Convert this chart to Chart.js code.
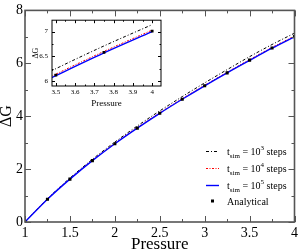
<!DOCTYPE html>
<html>
<head>
<meta charset="utf-8">
<script src="https://cdn.jsdelivr.net/npm/chart.js@4"></script>
<style>
  html, body { margin: 0; padding: 0; background: #fff; }
  #wrap { position: relative; width: 301px; height: 251px; }
  #main { position: absolute; left: 0; top: 0; }
  #inset { position: absolute; left: 28px; top: 12px; }
</style>
</head>
<body>
<div id="wrap">
  <canvas id="main" width="301" height="251"></canvas>
  <canvas id="inset" width="137" height="96"></canvas>
</div>
<script>
const pressure = [1, 1.25, 1.5, 1.75, 2, 2.25, 2.5, 2.75, 3, 3.25, 3.5, 3.75, 4];
const analytical = [0, 0.86, 1.62, 2.32, 2.96, 3.55, 4.11, 4.64, 5.15, 5.64, 6.12, 6.58, 7.01];
const tsim1e3 = [0, 0.88, 1.66, 2.37, 3.02, 3.63, 4.2, 4.74, 5.26, 5.76, 6.25, 6.71, 7.14];
const tsim1e4 = [0, 0.87, 1.63, 2.33, 2.97, 3.57, 4.13, 4.66, 5.17, 5.66, 6.14, 6.6, 7.03];
const tsim1e5 = [0, 0.86, 1.62, 2.32, 2.96, 3.55, 4.11, 4.64, 5.15, 5.64, 6.11, 6.57, 7.0];

const mainXLabels = [1, 1.5, 2, 2.5, 3, 3.5, 4];
const mainYLabels = [0, 2, 4, 6, 8];
const insetXLabels = [3.5, 3.6, 3.7, 3.8, 3.9, 4];
const insetYLabels = [6, 6.5, 7];

const legendItems = [
  { exp: "3", color: "#000000", dash: [3, 2, 1, 2] },
  { exp: "4", color: "#ff0000", dash: [2, 1.5, 1, 1.5] },
  { exp: "5", color: "#0000ff", dash: [] },
];

const FONT = "'Liberation Serif', 'DejaVu Serif', serif";

function pts(ys) {
  return pressure.map((x, i) => ({ x: x, y: ys[i] }));
}

function labelFrom(list) {
  return function (val) {
    const hit = list.find((v) => Math.abs(v - val) < 1e-6);
    return hit === undefined ? "" : String(hit);
  };
}

function datasets(pointRadius) {
  return [
    {
      label: "Analytical",
      data: pts(analytical),
      showLine: false,
      pointStyle: "rect",
      pointRadius: pointRadius,
      pointBackgroundColor: "#000",
      pointBorderWidth: 0,
      order: 0,
    },
    {
      label: "tsim 1e5",
      data: pts(tsim1e5),
      borderColor: "#0000ff",
      borderWidth: 1.4,
      pointRadius: 0,
      cubicInterpolationMode: "monotone",
      order: 1,
    },
    {
      label: "tsim 1e4",
      data: pts(tsim1e4),
      borderColor: "#ff0000",
      borderWidth: 1,
      borderDash: [2, 1.5, 1, 1.5],
      pointRadius: 0,
      cubicInterpolationMode: "monotone",
      order: 2,
    },
    {
      label: "tsim 1e3",
      data: pts(tsim1e3),
      borderColor: "#000000",
      borderWidth: 1,
      borderDash: [3, 2, 1, 2],
      pointRadius: 0,
      cubicInterpolationMode: "monotone",
      order: 3,
    },
  ];
}

// xmgrace-like frame with inward ticks on all four sides
function frameTicks(opts) {
  return {
    id: "frameTicks",
    afterDatasetsDraw(chart) {
      const { ctx, chartArea: a, scales } = chart;
      const x = scales.x, y = scales.y;
      ctx.save();
      ctx.strokeStyle = opts.color;
      ctx.lineWidth = opts.tickWidth;
      ctx.beginPath();
      x.ticks.forEach((t) => {
        const px = Math.round(x.getPixelForValue(t.value)) + 0.5;
        const len = t.label ? opts.major : opts.minor;
        ctx.moveTo(px, a.bottom); ctx.lineTo(px, a.bottom - len);
        ctx.moveTo(px, a.top); ctx.lineTo(px, a.top + len);
      });
      y.ticks.forEach((t) => {
        const py = Math.round(y.getPixelForValue(t.value)) + 0.5;
        const len = t.label ? opts.major : opts.minor;
        ctx.moveTo(a.left, py); ctx.lineTo(a.left + len, py);
        ctx.moveTo(a.right, py); ctx.lineTo(a.right - len, py);
      });
      ctx.stroke();
      ctx.lineWidth = opts.frameWidth;
      ctx.strokeRect(a.left, a.top, a.right - a.left, a.bottom - a.top);
      ctx.restore();
    },
  };
}

const legendPlugin = {
  id: "simLegend",
  afterDraw(chart) {
    const ctx = chart.ctx;
    const rows = [151, 168, 185];
    ctx.save();
    ctx.fillStyle = "#000";
    ctx.textBaseline = "alphabetic";
    legendItems.forEach((it, i) => {
      const yy = rows[i];
      ctx.strokeStyle = it.color;
      ctx.lineWidth = it.dash.length ? 1 : 1.4;
      ctx.setLineDash(it.dash);
      ctx.beginPath();
      ctx.moveTo(206, yy + 0.5);
      ctx.lineTo(219, yy + 0.5);
      ctx.stroke();
      ctx.setLineDash([]);
      let cx = 227;
      const base = yy + 3.5;
      ctx.font = "10px " + FONT;
      ctx.fillText("t", cx, base);
      cx += ctx.measureText("t").width;
      ctx.font = "7px " + FONT;
      ctx.fillText("sim", cx, base + 3);
      cx += ctx.measureText("sim").width;
      ctx.font = "10px " + FONT;
      ctx.fillText(" = 10", cx, base);
      cx += ctx.measureText(" = 10").width;
      ctx.font = "7px " + FONT;
      ctx.fillText(it.exp, cx, base - 5);
      cx += ctx.measureText(it.exp).width;
      ctx.font = "10px " + FONT;
      ctx.fillText(" steps", cx, base);
    });
    ctx.fillRect(211, 199.5, 3, 3);
    ctx.font = "10px " + FONT;
    ctx.fillText("Analytical", 227, 204.5);
    ctx.restore();
  },
};

new Chart(document.getElementById("main"), {
  type: "line",
  data: { datasets: datasets(2.2) },
  options: {
    responsive: false,
    animation: false,
    devicePixelRatio: 1,
    layout: { padding: { top: 5, right: 3, left: 0, bottom: 0 } },
    plugins: { legend: { display: false }, tooltip: { enabled: false } },
    scales: {
      x: {
        type: "linear",
        min: 1,
        max: 4,
        grid: { display: false, drawTicks: false },
        border: { display: false },
        ticks: {
          stepSize: 0.25,
          autoSkip: false,
          maxRotation: 0,
          includeBounds: false,
          padding: 3,
          color: "#000",
          font: { family: FONT, size: 14 },
          callback: labelFrom(mainXLabels),
        },
        title: {
          display: true,
          text: "Pressure",
          color: "#000",
          padding: 0,
          font: { family: FONT, size: 17, lineHeight: 0.8 },
        },
        afterFit(s) { s.height = 29; },
      },
      y: {
        type: "linear",
        min: 0,
        max: 8,
        grid: { display: false, drawTicks: false },
        border: { display: false },
        ticks: {
          stepSize: 1,
          autoSkip: false,
          includeBounds: false,
          padding: 2,
          color: "#000",
          font: { family: FONT, size: 14 },
          callback: labelFrom(mainYLabels),
        },
        title: {
          display: true,
          text: "ΔG",
          color: "#000",
          padding: 0,
          font: { family: FONT, size: 16, lineHeight: 0.8 },
        },
        afterFit(s) { s.width = 25; },
      },
    },
  },
  plugins: [frameTicks({ color: "#555", tickWidth: 1, frameWidth: 1.6, major: 6, minor: 3 }), legendPlugin],
});

new Chart(document.getElementById("inset"), {
  type: "line",
  data: { datasets: datasets(2) },
  options: {
    responsive: false,
    animation: false,
    devicePixelRatio: 1,
    layout: { padding: { top: 6, right: 3, left: 0, bottom: 0 } },
    plugins: { legend: { display: false }, tooltip: { enabled: false } },
    scales: {
      x: {
        type: "linear",
        min: 3.48,
        max: 4.046,
        grid: { display: false, drawTicks: false },
        border: { display: false },
        ticks: {
          stepSize: 0.05,
          autoSkip: false,
          maxRotation: 0,
          includeBounds: false,
          padding: 2,
          color: "#000",
          font: { family: FONT, size: 7 },
          callback: labelFrom(insetXLabels),
        },
        title: {
          display: true,
          text: "Pressure",
          color: "#000",
          padding: 0,
          font: { family: FONT, size: 9, lineHeight: 1 },
        },
        afterFit(s) { s.height = 22; },
      },
      y: {
        type: "linear",
        min: 5.9,
        max: 7.23,
        grid: { display: false, drawTicks: false },
        border: { display: false },
        ticks: {
          stepSize: 0.25,
          autoSkip: false,
          includeBounds: false,
          padding: 4,
          color: "#000",
          font: { family: FONT, size: 7 },
          callback: labelFrom(insetYLabels),
        },
        title: {
          display: true,
          text: "ΔG",
          color: "#000",
          padding: { top: 4, bottom: 0 },
          font: { family: FONT, size: 8, lineHeight: 1 },
        },
        afterFit(s) { s.width = 24; },
      },
    },
  },
  plugins: [frameTicks({ color: "#000", tickWidth: 1, frameWidth: 1, major: 3, minor: 1.5 })],
});
</script>
</body>
</html>
